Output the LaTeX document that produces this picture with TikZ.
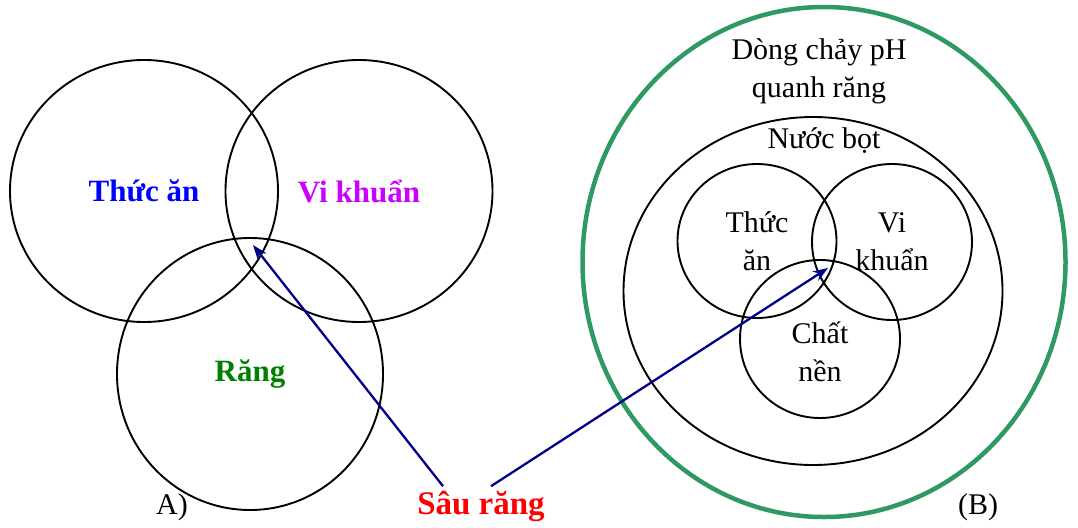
\documentclass[tikz,border=0pt]{standalone}
\usepackage{fontspec}
\setmainfont{Liberation Serif}
\usepackage{xcolor}
\usepackage{tikz}
\usetikzlibrary{positioning, arrows.meta, shapes.geometric}

\definecolor{foodblue}{RGB}{0,0,255}
\definecolor{germviolet}{RGB}{204,0,255}
\definecolor{toothgreen}{RGB}{0,128,0}
\definecolor{phgreen}{RGB}{46,154,98}
\definecolor{arrownavy}{RGB}{0,0,140}

\begin{document}
\begin{tikzpicture}[x=1pt, y=-1pt,
    ring/.style={draw, ellipse, line width=1.9pt, inner sep=0pt},
    big/.style={font=\fontsize{31}{36}\selectfont\bfseries},
    plain/.style={font=\fontsize{30}{38}\selectfont, align=center},
    pointer/.style={draw=arrownavy, line width=2.3pt, -{Stealth[length=15pt, width=11pt]}}]
    \useasboundingbox (0,0) rectangle (1078,527);

    % A) three overlapping rings
    \node[ring, big, text=foodblue, minimum width=268pt, minimum height=262pt] (food) at (144,191) {Thức ăn};
    \node[ring, big, text=germviolet, minimum width=267pt, minimum height=262pt] (germ) at (359,191) {Vi khuẩn};
    \node[ring, big, text=toothgreen, minimum width=266pt, minimum height=272pt] (tooth) at (250,374) {Răng};
    \node[plain] (labA) at (172,507) {A)};

    % (B) nested rings
    \node[ring, draw=phgreen, line width=4.5pt, minimum width=483pt, minimum height=510pt] (ph) at (824,262) {};
    \node[plain, anchor=north] (phtext) at (819,35) {Dòng chảy pH\\quanh răng};
    \node[ring, minimum width=379pt, minimum height=348pt] (saliva) at (813,291) {};
    \node[plain, anchor=north] (salivatext) at (824,124) {Nước bọt};
    \node[ring, plain, minimum width=159pt, minimum height=154pt] (food2) at (757,241) {Thức\\ăn};
    \node[ring, plain, minimum width=160pt, minimum height=156pt] (germ2) at (892,242) {Vi\\khuẩn};
    \node[ring, minimum width=160pt, minimum height=158pt] (base2) at (820,339) {};
    \node[plain] (basetext) at (820,352) {Chất\\nền};
    \node[plain] (labB) at (978,507) {(B)};

    % caries
    \node[font=\fontsize{33}{38}\selectfont\bfseries, text=red] (caries) at (481,507) {Sâu răng};
    \coordinate (tipA) at (253,245);
    \coordinate (tipB) at (828,268);
    \draw[pointer] ([xshift=-38pt, yshift=2pt]caries.north) -- (tipA);
    \draw[pointer] ([xshift=10pt, yshift=2pt]caries.north) -- (tipB);
\end{tikzpicture}
\end{document}
